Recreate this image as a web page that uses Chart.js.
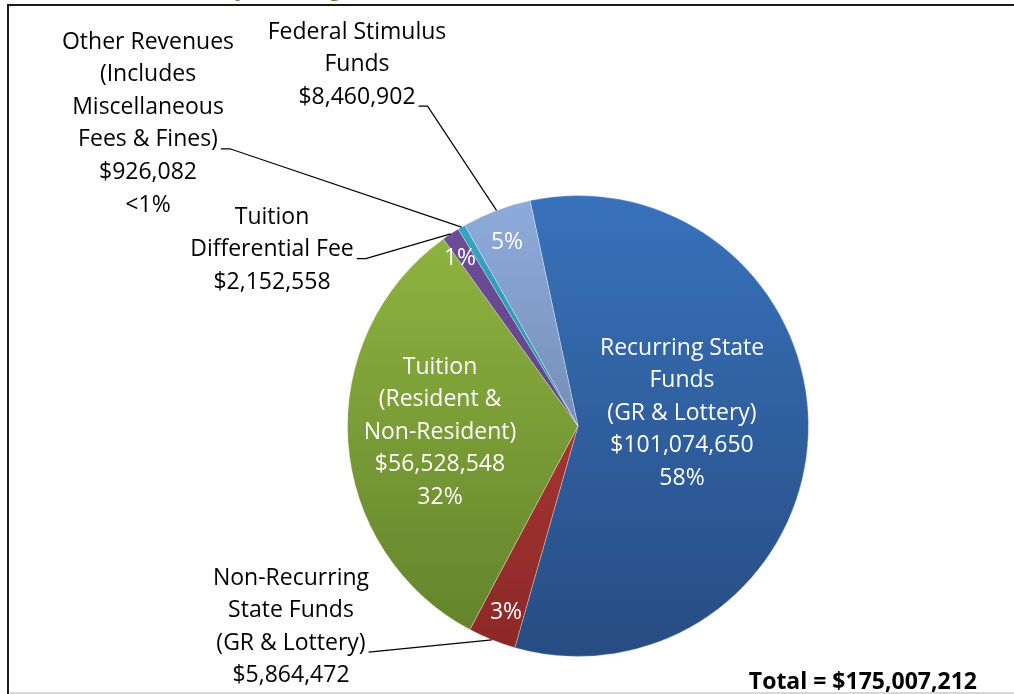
<!DOCTYPE html>
<html>
<head>
<meta charset="utf-8">
<script src="https://cdn.jsdelivr.net/npm/chart.js@4/dist/chart.umd.min.js"></script>
<style>
  html, body { margin: 0; padding: 0; background: #fff; overflow: hidden; }
  #wrap { position: relative; width: 1014px; height: 694px; overflow: hidden; }
  #frame { position: absolute; left: 7px; top: 4px; width: 1100px; height: 800px; border: 2px solid #1a1a1a; }
  #bottomLine { position: absolute; left: 10px; top: 692px; width: 1010px; height: 2px; background: #d6d6d6; }
  canvas { position: absolute; left: 0; top: 0; }
</style>
</head>
<body>
<div id="wrap">
  <div id="frame"></div>
  <div id="bottomLine"></div>
  <canvas id="pie" width="1014" height="694"></canvas>
</div>
<script>
const categories = ['Recurring State Funds (GR & Lottery)', 'Non-Recurring State Funds (GR & Lottery)',
  'Tuition (Resident & Non-Resident)', 'Tuition Differential Fee',
  'Other Revenues (Includes Miscellaneous Fees & Fines)', 'Federal Stimulus Funds'];
const amounts = [101074650, 5864472, 56528548, 2152558, 926082, 8460902];
const percentLabels = ['58%', '3%', '32%', '1%', '<1%', '5%'];
const totalLabel = 'Total = $175,007,212';
const titleText = 'Revenues by Funding (2010-2011)';

// gradient colours, top of pie -> bottom of pie
const sliceColors = [
  ['#3872bb', '#274c82'],
  ['#c0423f', '#8a2826'],
  ['#92b842', '#62812b'],
  ['#6e4f9a', '#523a78'],
  ['#35a7c4', '#247f97'],
  ['#8eacdb', '#5d7199']
];

const fmt = n => '$' + n.toLocaleString('en-US');

// label text blocks
const insideText = {
  0: ['Recurring State', 'Funds', '(GR & Lottery)', fmt(amounts[0]), percentLabels[0]],
  2: ['Tuition', '(Resident &', 'Non-Resident)', fmt(amounts[2]), percentLabels[2]],
  1: [percentLabels[1]],
  3: [percentLabels[3]],
  5: [percentLabels[5]]
};
const outsideText = {
  5: ['Federal Stimulus', 'Funds', fmt(amounts[5])],
  4: ['Other Revenues', '(Includes', 'Miscellaneous', 'Fees & Fines)', fmt(amounts[4]), percentLabels[4]],
  3: ['Tuition', 'Differential Fee', fmt(amounts[3])],
  1: ['Non-Recurring', 'State Funds', '(GR & Lottery)', fmt(amounts[1])]
};

const FONT = '"Open Sans", "Liberation Sans", sans-serif';
const FS = 23;
const LH = 32.6;

// where each text block sits (centre x, first line y) and which line gets the leader
const insidePos = { 0: [682, 348], 2: [440, 367], 1: [506, 612], 3: [460, 258], 5: [507, 242] };
const outsidePos = { 5: [357, 32, 2], 4: [148, 42, 3], 3: [272, 217, 1], 1: [291, 578, 2] };

const labelPlugin = {
  id: 'sliceLabels',
  afterDatasetsDraw(chart) {
    const ctx = chart.ctx;
    const arcs = chart.getDatasetMeta(0).data;
    ctx.save();
    ctx.font = FS + 'px ' + FONT;
    ctx.textAlign = 'center';
    ctx.textBaseline = 'middle';

    ctx.fillStyle = '#ffffff';
    Object.keys(insideText).forEach(k => {
      const [x, y] = insidePos[k];
      insideText[k].forEach((t, j) => ctx.fillText(t, x, y + j * LH));
    });

    ctx.fillStyle = '#000000';
    ctx.strokeStyle = '#000000';
    ctx.lineWidth = 1.2;
    Object.keys(outsideText).forEach(k => {
      const [x, y, leadLine] = outsidePos[k];
      const lines = outsideText[k];
      lines.forEach((t, j) => ctx.fillText(t, x, y + j * LH));
      const arc = arcs[k];
      const mid = (arc.startAngle + arc.endAngle) / 2;
      const ex = arc.x + Math.cos(mid) * arc.outerRadius;
      const ey = arc.y + Math.sin(mid) * arc.outerRadius;
      const w = ctx.measureText(lines[leadLine]).width;
      const sx = x + w / 2 + 3;
      const sy = y + leadLine * LH + 9;
      ctx.beginPath();
      ctx.moveTo(sx, sy);
      if (k != 1) ctx.lineTo(sx + 9, sy);
      ctx.lineTo(ex, ey);
      ctx.stroke();
    });

    ctx.font = 'bold ' + FS + 'px ' + FONT;
    ctx.textAlign = 'right';
    ctx.fillText(totalLabel, 977, 682);

    ctx.font = 'bold 22px ' + FONT;
    ctx.fillStyle = '#76762e';
    ctx.textAlign = 'right';
    ctx.textBaseline = 'alphabetic';
    ctx.fillText(titleText, 470, -4);
    ctx.restore();
  }
};

new Chart(document.getElementById('pie').getContext('2d'), {
  type: 'pie',
  data: {
    labels: categories,
    datasets: [{
      data: amounts,
      backgroundColor(c) {
        const area = c.chart.chartArea;
        if (!area) return sliceColors[c.dataIndex][0];
        const g = c.chart.ctx.createLinearGradient(0, area.top, 0, area.bottom);
        g.addColorStop(0, sliceColors[c.dataIndex][0]);
        g.addColorStop(1, sliceColors[c.dataIndex][1]);
        return g;
      },
      borderColor: 'rgba(255,255,255,0.3)',
      borderWidth: 1
    }]
  },
  options: {
    responsive: false,
    animation: false,
    rotation: -12,
    layout: { padding: { top: 195, bottom: 37, left: 347, right: 205 } },
    plugins: {
      legend: { display: false },
      tooltip: { enabled: false }
    }
  },
  plugins: [labelPlugin]
});
</script>
</body>
</html>
